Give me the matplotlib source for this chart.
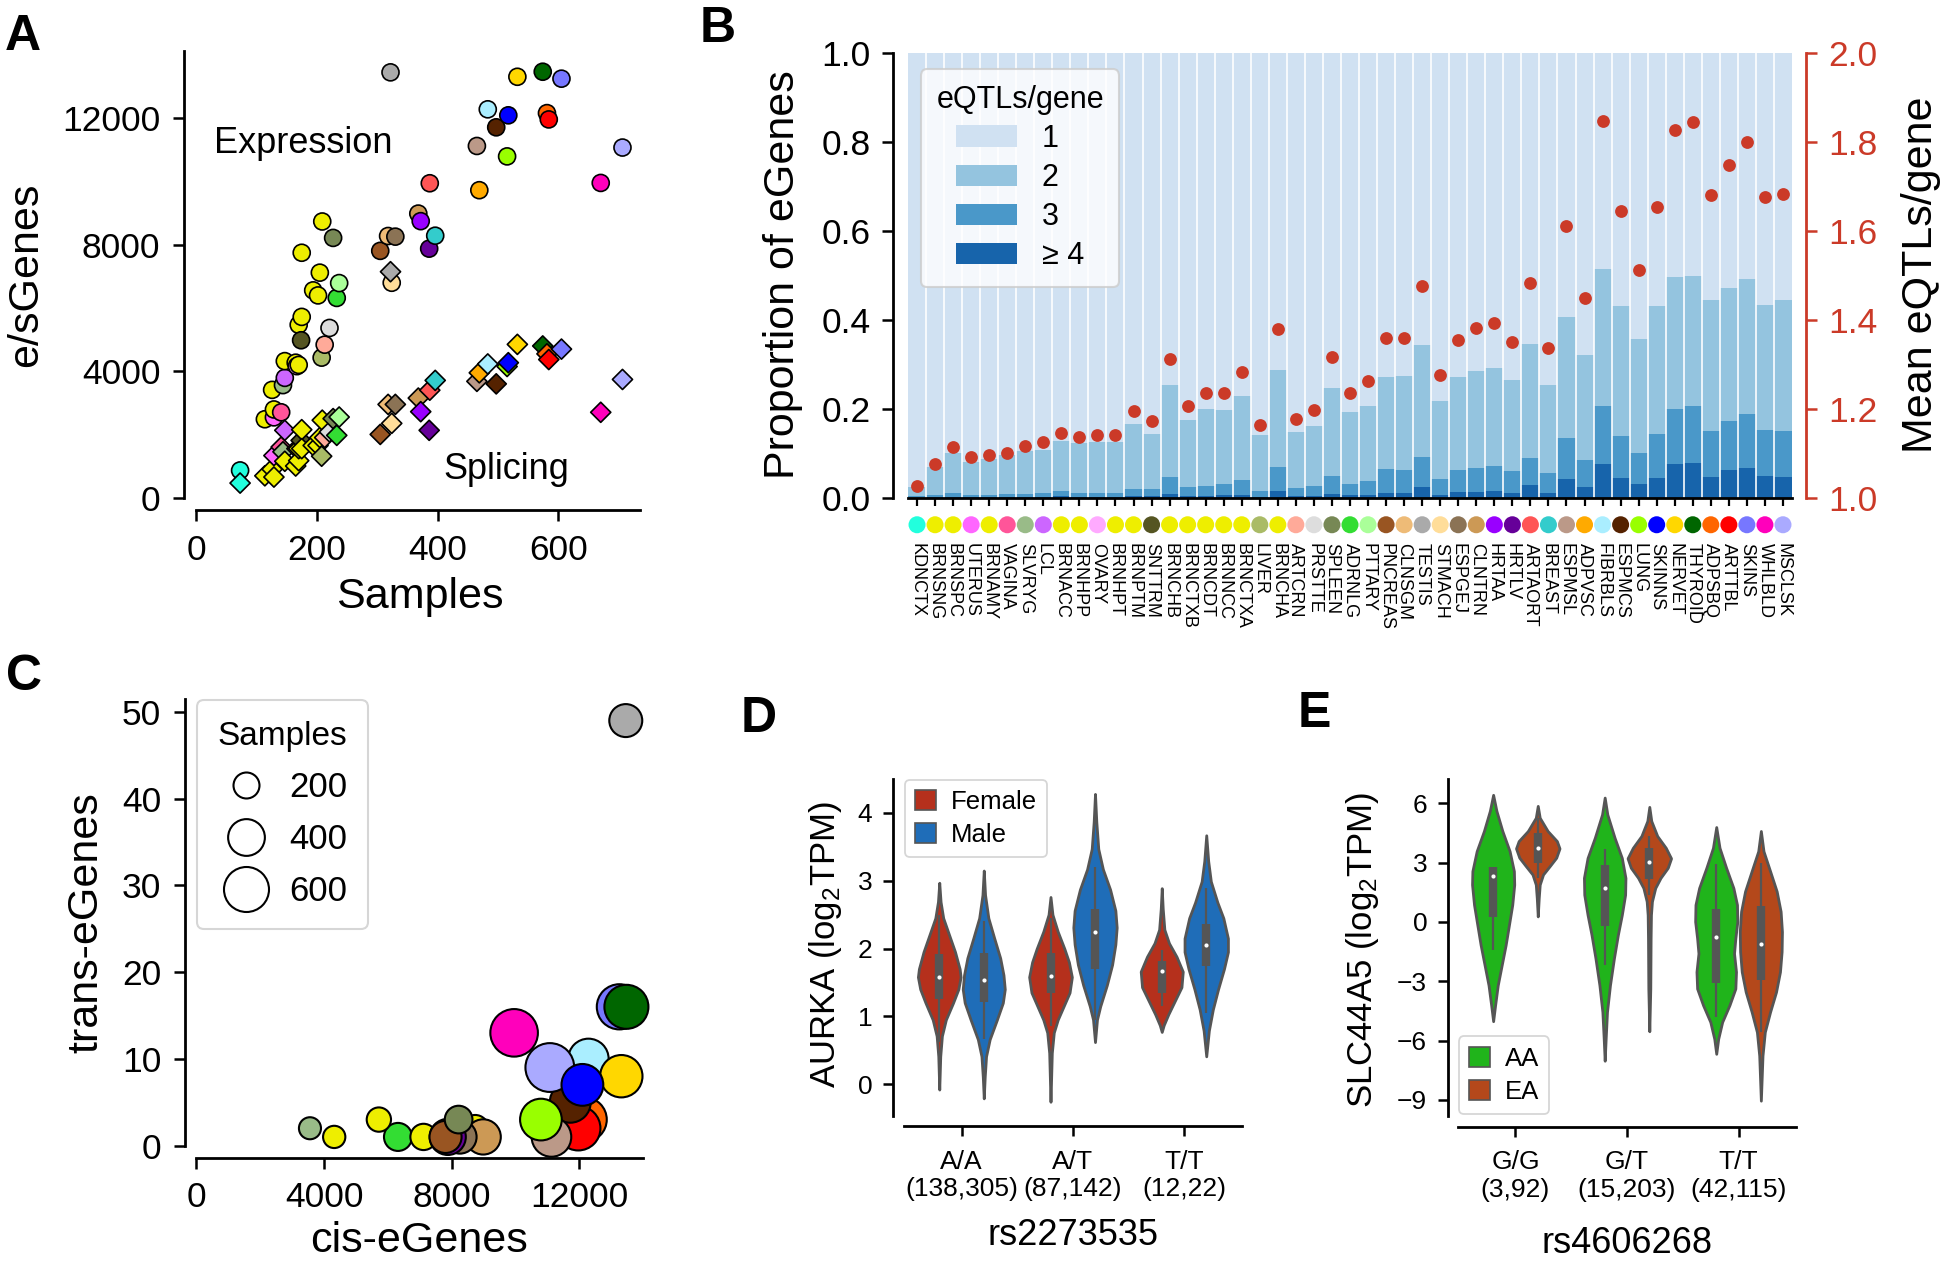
import numpy as np
import matplotlib
matplotlib.use("Agg")
import matplotlib.pyplot as plt
from matplotlib.patches import Patch
from matplotlib.lines import Line2D

plt.rcParams['font.family'] = ['Liberation Sans', 'DejaVu Sans']
plt.rcParams['mathtext.fontset'] = 'custom'
plt.rcParams['mathtext.rm'] = 'Liberation Sans'
plt.rcParams['mathtext.it'] = 'Liberation Sans:italic'
plt.rcParams['axes.linewidth'] = 2.0

# ---------------- tissue data (ordered by sample size, as in panel B) ----------------
tissues = ["KDNCTX", "BRNSNG", "BRNSPC", "UTERUS", "BRNAMY", "VAGINA", "SLVRYG", "LCL",
           "BRNACC", "BRNHPP", "OVARY", "BRNHPT", "BRNPTM", "SNTTRM", "BRNCHB", "BRNCTXB",
           "BRNCDT", "BRNNCC", "BRNCTXA", "LIVER", "BRNCHA", "ARTCRN", "PRSTTE", "SPLEEN",
           "ADRNLG", "PTTARY", "PNCREAS", "CLNSGM", "TESTIS", "STMACH", "ESPGEJ", "CLNTRN",
           "HRTAA", "HRTLV", "ARTAORT", "BREAST", "ESPMSL", "ADPVSC", "FIBRBLS", "ESPMCS",
           "LUNG", "SKINNS", "NERVET", "THYROID", "ADPSBQ", "ARTTBL", "SKINS", "WHLBLD", "MSCLSK"]
tissue_colors = ["#22FFDD", "#EEEE00", "#EEEE00", "#FF66FF", "#EEEE00", "#FF5599", "#99BB88", "#CC66FF",
                 "#EEEE00", "#EEEE00", "#FFAAFF", "#EEEE00", "#EEEE00", "#555522", "#EEEE00", "#EEEE00",
                 "#EEEE00", "#EEEE00", "#EEEE00", "#AABB66", "#EEEE00", "#FFAA99", "#DDDDDD", "#778855",
                 "#33DD33", "#AAFF99", "#995522", "#EEBB77", "#AAAAAA", "#FFDD99", "#8B7355", "#CC9955",
                 "#9900FF", "#660099", "#FF5555", "#33CCCC", "#BB9988", "#FFAA00", "#AAEEFF", "#552200",
                 "#99FF00", "#0000FF", "#FFD700", "#006600", "#FF6600", "#FF0000", "#7777FF", "#FF00BB", "#AAAAFF"]
samples = [73, 114, 126, 129, 129, 141, 144, 147, 147, 165, 167, 170, 170, 174, 175, 175,
           194, 202, 205, 208, 209, 213, 221, 227, 233, 237, 305, 318, 322, 324, 330, 368,
           372, 386, 387, 396, 465, 469, 483, 497, 515, 517, 532, 574, 581, 584, 605, 670, 706]
egenes = [860, 2480, 3410, 2540, 2790, 2700, 3560, 3790, 4320, 4270, 4160, 4200, 5470, 4980, 7750, 5720,
          6560, 6400, 7120, 4430, 8740, 4840, 5370, 8220, 6320, 6790, 7810, 8280, 13460, 6800, 8260, 8990,
          8750, 7880, 9950, 8290, 11130, 9730, 12290, 11720, 10800, 12100, 13320, 13480, 12170, 11970,
          13260, 9960, 11080]
sgenes = [460, 690, 900, 1330, 650, 1600, 1450, 2130, 1150, 1000, 1550, 1170, 1550, 1810, 2150, 1550,
          1650, 1650, 1900, 1310, 2450, 1900, 2080, 2500, 1970, 2550, 2000, 2950, 7150, 2350, 2950, 3150,
          2720, 2130, 3400, 3710, 3680, 3950, 4230, 3600, 4150, 4270, 4850, 4800, 4550, 4370, 4700, 2700, 3740]

# panel B: proportion of eGenes with >=2, >=3, >=4 eQTLs, and mean eQTLs per gene
prop_ge2 = [0.024, 0.069, 0.100, 0.081, 0.086, 0.095, 0.104, 0.107, 0.127, 0.123, 0.124, 0.124, 0.166,
            0.144, 0.252, 0.174, 0.198, 0.196, 0.229, 0.141, 0.287, 0.147, 0.161, 0.247, 0.192, 0.206,
            0.270, 0.274, 0.342, 0.217, 0.270, 0.284, 0.291, 0.265, 0.346, 0.252, 0.406, 0.320, 0.514,
            0.431, 0.356, 0.431, 0.496, 0.498, 0.445, 0.470, 0.491, 0.433, 0.444]
prop_ge3 = [0.003, 0.005, 0.010, 0.006, 0.006, 0.007, 0.009, 0.011, 0.014, 0.011, 0.011, 0.011, 0.019,
            0.019, 0.046, 0.023, 0.027, 0.030, 0.040, 0.015, 0.069, 0.021, 0.027, 0.049, 0.030, 0.038,
            0.065, 0.061, 0.092, 0.041, 0.061, 0.067, 0.072, 0.060, 0.089, 0.056, 0.134, 0.084, 0.206,
            0.139, 0.100, 0.144, 0.200, 0.205, 0.150, 0.171, 0.187, 0.152, 0.150]
prop_ge4 = [0.000, 0.001, 0.002, 0.001, 0.001, 0.001, 0.002, 0.002, 0.003, 0.002, 0.002, 0.002, 0.003,
            0.003, 0.007, 0.004, 0.004, 0.005, 0.006, 0.002, 0.014, 0.003, 0.004, 0.007, 0.005, 0.006,
            0.010, 0.010, 0.023, 0.006, 0.012, 0.013, 0.014, 0.010, 0.028, 0.010, 0.041, 0.023, 0.075,
            0.044, 0.030, 0.044, 0.075, 0.077, 0.047, 0.061, 0.067, 0.049, 0.047]
mean_eqtls = [1.026, 1.076, 1.113, 1.092, 1.095, 1.101, 1.116, 1.124, 1.146, 1.136, 1.141, 1.141, 1.194,
              1.171, 1.312, 1.206, 1.235, 1.235, 1.282, 1.163, 1.379, 1.177, 1.196, 1.316, 1.236, 1.261,
              1.358, 1.359, 1.476, 1.275, 1.355, 1.381, 1.393, 1.349, 1.483, 1.335, 1.610, 1.448, 1.845,
              1.645, 1.511, 1.654, 1.827, 1.843, 1.679, 1.748, 1.798, 1.675, 1.681]
eqtl_classes = ["1", "2", "3", "\u2265 4"]

# panel C: trans-eGenes (drawing order as in the figure)
trans_tissues = ["ADPSBQ", "ADRNLG", "ARTTBL", "BRNACC", "BRNCHA", "BRNCTXA", "BRNCTXB", "FIBRBLS",
                 "CLNTRN", "ESPGEJ", "ESPMCS", "ESPMSL", "HRTLV", "LUNG", "SLVRYG", "MSCLSK", "NERVET",
                 "PNCREAS", "SKINNS", "SKINS", "SPLEEN", "TESTIS", "THYROID", "WHLBLD"]
trans_counts = [3, 1, 2, 1, 2, 1, 3, 10, 1, 1, 5, 1, 1, 3, 2, 9, 8, 1, 7, 16, 3, 49, 16, 13]
legend_samples = [200, 400, 600]

# panel D: AURKA by rs2273535, split by sex
d_genotypes = ["A/A\n(138,305)", "A/T\n(87,142)", "T/T\n(12,22)"]
d_groups = ["Female", "Male"]
d_colors = ["#B5301C", "#1F6DB8"]
d_prof_y = [
    [[2.97, 2.69, 2.45, 2.20, 1.95, 1.70, 1.58, 1.40, 1.20, 0.95, 0.71, 0.41, -0.08],
     [2.76, 2.50, 2.25, 2.00, 1.80, 1.58, 1.35, 1.15, 0.95, 0.76, 0.46, -0.26],
     [2.89, 2.59, 2.28, 2.08, 1.88, 1.66, 1.43, 1.23, 1.03, 0.87, 0.77]],
    [[3.15, 2.79, 2.45, 2.15, 1.86, 1.61, 1.40, 1.20, 0.95, 0.66, 0.41, 0.11, -0.21],
     [4.28, 3.87, 3.47, 3.17, 2.87, 2.56, 2.31, 2.06, 1.76, 1.46, 1.15, 0.95, 0.62],
     [3.67, 3.29, 2.99, 2.68, 2.45, 2.15, 1.95, 1.70, 1.40, 1.10, 0.79, 0.41]]]
d_prof_w = [
    [[0, 4, 12, 30, 48, 62, 65, 58, 42, 20, 8, 3, 0],
     [0, 6, 22, 42, 56, 65, 58, 40, 22, 10, 4, 0],
     [0, 3, 8, 22, 45, 64, 60, 40, 20, 6, 0]],
    [[0, 4, 14, 32, 50, 60, 64, 58, 40, 18, 7, 3, 0],
     [0, 4, 10, 24, 46, 62, 66, 62, 52, 36, 16, 6, 0],
     [0, 6, 14, 34, 52, 66, 66, 54, 36, 20, 8, 0]]]
# q1, q3, median, whisker low, whisker high
d_box = [[[1.25, 1.92, 1.58, 0.62, 2.50], [1.35, 1.94, 1.60, 0.85, 2.45], [1.34, 1.82, 1.67, 1.15, 1.98]],
         [[1.21, 1.93, 1.54, 0.67, 2.40], [1.70, 2.58, 2.24, 0.95, 3.20], [1.74, 2.36, 2.05, 1.05, 2.89]]]

# panel E: SLC44A5 by rs4606268, split by ancestry
e_genotypes = ["G/G\n(3,92)", "G/T\n(15,203)", "T/T\n(42,115)"]
e_groups = ["AA", "EA"]
e_colors = ["#20B41B", "#B4481B"]
e_prof_y = [
    [[6.43, 5.62, 4.60, 3.58, 2.57, 1.89, 0.87, -0.15, -1.16, -2.18, -3.20, -4.21, -5.02],
     [6.29, 5.44, 4.26, 3.24, 2.23, 1.38, 0.36, -0.65, -1.84, -3.20, -4.55, -5.91, -7.02],
     [4.80, 3.75, 2.74, 1.72, 0.87, 0.02, -0.83, -1.59, -2.52, -3.37, -4.21, -5.06, -5.91, -6.67]],
    [[5.87, 5.27, 4.60, 4.09, 3.72, 3.25, 2.82, 2.40, 1.89, 1.21, 0.28],
     [5.82, 5.11, 4.35, 3.75, 3.22, 2.74, 2.23, 1.72, 1.04, 0.36, -0.82, -3.37, -5.53],
     [4.60, 3.58, 2.57, 1.55, 0.53, -0.49, -1.50, -2.52, -3.54, -4.55, -5.57, -6.76, -9.04]]]
e_prof_w = [
    [[0, 10, 28, 50, 63, 64, 58, 48, 38, 26, 14, 6, 0],
     [0, 8, 30, 52, 63, 62, 52, 40, 28, 16, 7, 3, 0],
     [0, 10, 30, 52, 63, 64, 58, 54, 60, 58, 40, 18, 6, 0]],
    [[0, 6, 30, 58, 66, 56, 36, 16, 6, 3, 0],
     [0, 6, 24, 50, 66, 56, 34, 18, 8, 5, 4, 3, 0],
     [0, 8, 28, 48, 60, 64, 63, 58, 46, 28, 12, 5, 0]]]
e_box = [[[0.26, 2.77, 2.31, -1.41, 2.80], [-0.23, 2.90, 1.72, -2.18, 3.67], [-3.11, 0.67, -0.74, -4.80, 2.91]],
         [[2.96, 4.48, 3.75, 2.23, 5.27], [2.19, 3.72, 3.04, 1.38, 4.35], [-2.94, 0.79, -1.13, -5.57, 2.99]]]

# ---------------- figure ----------------
W, H = 1950, 1261
fig = plt.figure(figsize=(W / 100, H / 100), dpi=100)


def px_axes(l, t, r, b):
    return fig.add_axes([l / W, 1 - b / H, (r - l) / W, (b - t) / H])


def despine(ax, off_left, off_bottom):
    ax.spines['top'].set_visible(False)
    ax.spines['right'].set_visible(False)
    ax.spines['left'].set_position(('outward', off_left * 0.72))
    ax.spines['bottom'].set_position(('outward', off_bottom * 0.72))


def panel_letter(x, y, s):
    fig.text(x / W, 1 - y / H, s, fontsize=36, fontweight='bold', ha='left', va='top')


# ---- A ----
axA = px_axes(196, 51, 640, 497.6)
despine(axA, 12, 12.4)
axA.scatter(samples, egenes, s=150, c=tissue_colors, marker='o', edgecolors='black',
            linewidths=1.2, clip_on=False, zorder=3)
axA.scatter(samples, sgenes, s=105, c=tissue_colors, marker='D', edgecolors='black',
            linewidths=1.2, clip_on=False, zorder=4)
axA.set_xlim(0, 735)
axA.set_ylim(0, 14136)
axA.set_xticks([0, 200, 400, 600])
axA.set_yticks([0, 4000, 8000, 12000])
axA.tick_params(labelsize=25.5, length=8, width=1.8, pad=9)
axA.text(29, 11222, "Expression", fontsize=26, ha='left', va='center')
axA.text(410, 905, "Splicing", fontsize=26, ha='left', va='center')
axA.set_xlabel("Samples", fontsize=31, va='center')
axA.set_ylabel("e/sGenes", fontsize=31, va='center')
axA.xaxis.set_label_coords(0.504, -0.222)
axA.yaxis.set_label_coords(-0.383, 0.498)

# ---- B ----
blues = ["#D0E1F2", "#94C4DF", "#4A98C9", "#1764AB"]
red = "#CB3A28"
n = len(tissues)
x = np.arange(n)
axB = px_axes(908, 52.5, 1792, 497.6)
axB.bar(x, np.ones(n), width=1.0, color=blues[0], linewidth=0, label=eqtl_classes[0])
axB.bar(x, prop_ge2, width=1.0, color=blues[1], linewidth=0, label=eqtl_classes[1])
axB.bar(x, prop_ge3, width=1.0, color=blues[2], linewidth=0, label=eqtl_classes[2])
axB.bar(x, prop_ge4, width=1.0, color=blues[3], linewidth=0, label=eqtl_classes[3])
axB.vlines(x[:-1] + 0.5, 0, 1, color='white', linewidth=1.3, alpha=0.9, zorder=2)
axB.set_xlim(-0.5, n - 0.5)
axB.set_ylim(0, 1)
axB.spines['top'].set_visible(False)
axB.spines['right'].set_visible(False)
axB.spines['left'].set_position(('outward', 15 * 0.72))
axB.set_yticks([0, 0.2, 0.4, 0.6, 0.8, 1.0])
axB.set_yticklabels(["0.0", "0.2", "0.4", "0.6", "0.8", "1.0"])
axB.tick_params(axis='y', labelsize=25.5, length=8, width=1.8, pad=8)
axB.set_xticks(x)
axB.set_xticklabels(tissues, rotation=270, fontsize=13, ha='center', va='top')
axB.tick_params(axis='x', length=6, width=1.6, pad=27)
axB.scatter(x, np.full(n, -0.061), s=150, c=tissue_colors, linewidths=0,
            transform=axB.get_xaxis_transform(), clip_on=False)
axB.set_ylabel("Proportion of eGenes", fontsize=31, va='center')
axB.yaxis.set_label_coords(-0.1414, 0.5)
legB = axB.legend(title="eQTLs/gene", loc='upper left', bbox_to_anchor=(0.0147, 0.962),
                  borderaxespad=0, fontsize=22, title_fontsize=22, handlelength=2.0,
                  handleheight=0.7, labelspacing=0.3, borderpad=0.5, handletextpad=0.8)
legB.get_frame().set_linewidth(1.5)

axB2 = axB.twinx()
axB2.scatter(x, mean_eqtls, s=85, color=red, zorder=5, linewidths=0)
axB2.set_ylim(1, 2)
for s in ['top', 'left', 'bottom']:
    axB2.spines[s].set_visible(False)
axB2.spines['right'].set_position(('outward', 14 * 0.72))
axB2.spines['right'].set_color(red)
axB2.set_yticks([1.0, 1.2, 1.4, 1.6, 1.8, 2.0])
axB2.set_yticklabels(["1.0", "1.2", "1.4", "1.6", "1.8", "2.0"])
axB2.tick_params(axis='y', labelsize=25.5, length=8, width=1.8, pad=8, colors=red)
axB2.set_ylabel("Mean eQTLs/gene", fontsize=31, va='center', rotation=90)
axB2.yaxis.set_label_coords(1.146, 0.5)

# ---- C ----
axC = px_axes(196.4, 698.9, 643, 1145.6)
despine(axC, 11.6, 12)
idx = [tissues.index(t) for t in trans_tissues]
axC.scatter([egenes[i] for i in idx], trans_counts, s=[1.75 * samples[i] for i in idx],
            c=[tissue_colors[i] for i in idx], edgecolors='black', linewidths=1.5,
            clip_on=False, zorder=3)
axC.set_xlim(0, 14000)
axC.set_ylim(0, 51.5)
axC.set_xticks([0, 4000, 8000, 12000])
axC.set_yticks([0, 10, 20, 30, 40, 50])
axC.tick_params(labelsize=25.5, length=8, width=1.8, pad=9)
axC.set_xlabel("cis-eGenes", fontsize=31, va='center')
axC.set_ylabel("trans-eGenes", fontsize=31, va='center')
axC.xaxis.set_label_coords(0.498, -0.2136)
axC.yaxis.set_label_coords(-0.247, 0.5)
size_handles = [Line2D([], [], linestyle='none', marker='o', markersize=np.sqrt(1.75 * v),
                       markerfacecolor='white', markeredgecolor='black', markeredgewidth=1.5)
                for v in legend_samples]
legC = axC.legend(size_handles, [str(v) for v in legend_samples], title="Samples",
                  loc='upper left', bbox_to_anchor=(0.001, 0.998), borderaxespad=0,
                  fontsize=25, title_fontsize=24, labelspacing=0.55, handletextpad=0.45,
                  borderpad=0.6, handlelength=1.6)
legC.get_frame().set_linewidth(1.5)


# ---- violins ----
def draw_violins(ax, prof_y, prof_w, boxes, colors, offsets=(-0.2, 0.2)):
    for hi in range(2):
        for gi in range(3):
            ys = np.array(prof_y[hi][gi], float)
            ws = np.array(prof_w[hi][gi], float)
            q1, q3, med, wlo, whi = boxes[hi][gi]
            pos = gi + offsets[hi]
            st = dict(coords=ys, vals=ws, mean=med, median=med, min=ys.min(), max=ys.max())
            parts = ax.violin([st], positions=[pos], widths=[0.39 * ws.max() / 66],
                              showmeans=False, showextrema=False, showmedians=False)
            body = parts['bodies'][0]
            body.set_facecolor(colors[hi])
            body.set_edgecolor('#555555')
            body.set_linewidth(2.0)
            body.set_alpha(1)
            ax.vlines(pos, wlo, whi, color='#555555', linewidth=1.6, zorder=3)
            ax.vlines(pos, q1, q3, color='#555555', linewidth=6, zorder=3)
            ax.scatter([pos], [med], s=9, color='white', zorder=4, linewidths=0)


# ---- D ----
axD = px_axes(904, 779, 1241.5, 1116)
despine(axD, 11, 10)
draw_violins(axD, d_prof_y, d_prof_w, d_box, d_colors)
axD.set_xlim(-0.517, 2.517)
axD.set_ylim(-0.47, 4.5)
axD.set_xticks([0, 1, 2])
axD.set_xticklabels(d_genotypes)
axD.set_yticks([0, 1, 2, 3, 4])
axD.tick_params(labelsize=19, length=7, width=1.8, pad=8)
axD.tick_params(axis='x', pad=10)
axD.set_xlabel("rs2273535", fontsize=26, va='center')
axD.set_ylabel(r"AURKA (log$_\mathregular{2}$TPM)", fontsize=25, va='center')
axD.xaxis.set_label_coords(0.5, -0.356)
axD.yaxis.set_label_coords(-0.234, 0.509)
hD = [Patch(facecolor=c, edgecolor='#555555', linewidth=1.2) for c in d_colors]
legD = axD.legend(hD, d_groups, loc='upper left', bbox_to_anchor=(0.002, 0.998), borderaxespad=0,
                  fontsize=18.5, handlelength=0.8, handleheight=0.8, labelspacing=0.35,
                  handletextpad=0.6, borderpad=0.4)
legD.get_frame().set_linewidth(1.3)

# ---- E ----
axE = px_axes(1458, 778.6, 1796, 1115.7)
despine(axE, 10, 11)
draw_violins(axE, e_prof_y, e_prof_w, e_box, e_colors)
axE.set_xlim(-0.515, 2.515)
axE.set_ylim(-9.8, 7.25)
axE.set_xticks([0, 1, 2])
axE.set_xticklabels(e_genotypes)
axE.set_yticks([-9, -6, -3, 0, 3, 6])
axE.tick_params(labelsize=19, length=7, width=1.8, pad=8)
axE.tick_params(axis='x', pad=10)
axE.set_xlabel("rs4606268", fontsize=26, va='center')
axE.set_ylabel(r"SLC44A5 (log$_\mathregular{2}$TPM)", fontsize=25, va='center')
axE.xaxis.set_label_coords(0.5, -0.378)
axE.yaxis.set_label_coords(-0.2825, 0.492)
hE = [Patch(facecolor=c, edgecolor='#555555', linewidth=1.2) for c in e_colors]
legE = axE.legend(hE, e_groups, loc='lower left', bbox_to_anchor=(0.002, 0.005), borderaxespad=0,
                  fontsize=18.5, handlelength=0.8, handleheight=0.8, labelspacing=0.35,
                  handletextpad=0.6, borderpad=0.4)
legE.get_frame().set_linewidth(1.3)

panel_letter(5, 14, "A")
panel_letter(700, 6, "B")
panel_letter(6, 654, "C")
panel_letter(741, 696, "D")
panel_letter(1298, 691, "E")

fig.savefig("out.png", dpi=100)
